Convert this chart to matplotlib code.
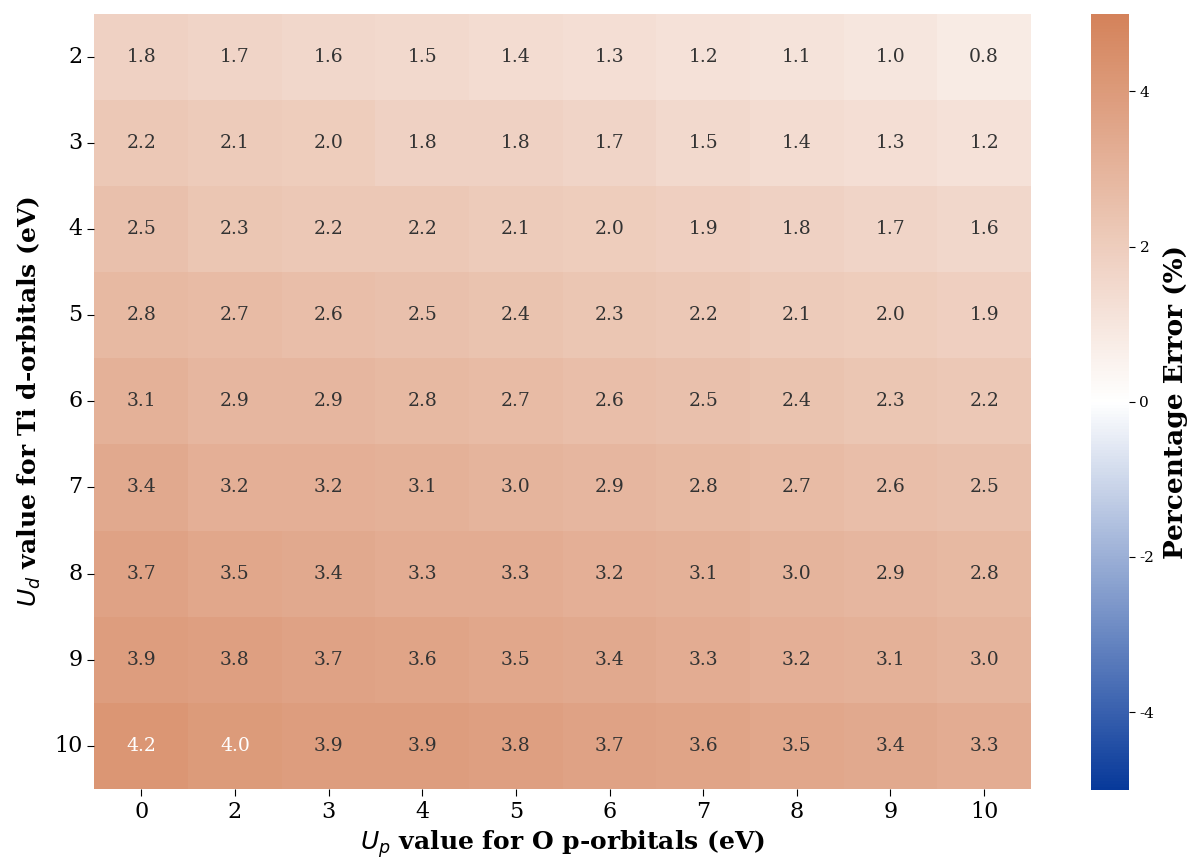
import numpy as np
import matplotlib
matplotlib.use("Agg")
import matplotlib.pyplot as plt
import seaborn as sns
from matplotlib.colors import LinearSegmentedColormap

# Hubbard U values (eV)
up_values = [0, 2, 3, 4, 5, 6, 7, 8, 9, 10]
ud_values = [2, 3, 4, 5, 6, 7, 8, 9, 10]

# Percentage error of the computed property, rows = U_d, columns = U_p
err_ud2 = [1.8, 1.7, 1.6, 1.5, 1.4, 1.3, 1.2, 1.1, 1.0, 0.8]
err_ud3 = [2.2, 2.1, 2.0, 1.8, 1.8, 1.7, 1.5, 1.4, 1.3, 1.2]
err_ud4 = [2.5, 2.3, 2.2, 2.2, 2.1, 2.0, 1.9, 1.8, 1.7, 1.6]
err_ud5 = [2.8, 2.7, 2.6, 2.5, 2.4, 2.3, 2.2, 2.1, 2.0, 1.9]
err_ud6 = [3.1, 2.9, 2.9, 2.8, 2.7, 2.6, 2.5, 2.4, 2.3, 2.2]
err_ud7 = [3.4, 3.2, 3.2, 3.1, 3.0, 2.9, 2.8, 2.7, 2.6, 2.5]
err_ud8 = [3.7, 3.5, 3.4, 3.3, 3.3, 3.2, 3.1, 3.0, 2.9, 2.8]
err_ud9 = [3.9, 3.8, 3.7, 3.6, 3.5, 3.4, 3.3, 3.2, 3.1, 3.0]
err_ud10 = [4.2, 4.0, 3.9, 3.9, 3.8, 3.7, 3.6, 3.5, 3.4, 3.3]

errors = np.array([err_ud2, err_ud3, err_ud4, err_ud5, err_ud6,
                   err_ud7, err_ud8, err_ud9, err_ud10])

plt.rcParams['font.family'] = ['DejaVu Serif']
plt.rcParams['axes.unicode_minus'] = False

cmap = LinearSegmentedColormap.from_list(
    "blue_white_orange", ["#07399a", "#ffffff", "#d4825a"])

fig = plt.figure(figsize=(11.96, 8.65), dpi=100)
ax = fig.add_axes([0.079, 0.088, 0.783, 0.896])
cax = fig.add_axes([0.912, 0.087, 0.032, 0.897])

sns.heatmap(errors, ax=ax, cbar_ax=cax, cmap=cmap, vmin=-5, vmax=5,
            annot=True, fmt=".1f", annot_kws={"fontsize": 13.5},
            xticklabels=up_values, yticklabels=ud_values)

# light text on the darkest cells, dark grey elsewhere
for txt, val in zip(ax.texts, errors.ravel()):
    txt.set_color("white" if val >= 4.0 else "#333333")

ax.tick_params(axis='both', labelsize=16, length=5)
ax.tick_params(axis='y', rotation=0)
ax.set_xlabel(r"$U_p$ value for O p-orbitals (eV)", fontsize=18,
              fontweight='bold', labelpad=4)
ax.set_ylabel(r"$U_d$ value for Ti d-orbitals (eV)", fontsize=18,
              fontweight='bold', labelpad=8)

cax.tick_params(labelsize=11, length=4)
cax.set_yticks([-4, -2, 0, 2, 4])
cax.set_ylabel("Percentage Error (%)", fontsize=19, fontweight='bold',
               labelpad=6)

fig.savefig("out.png", dpi=100)
